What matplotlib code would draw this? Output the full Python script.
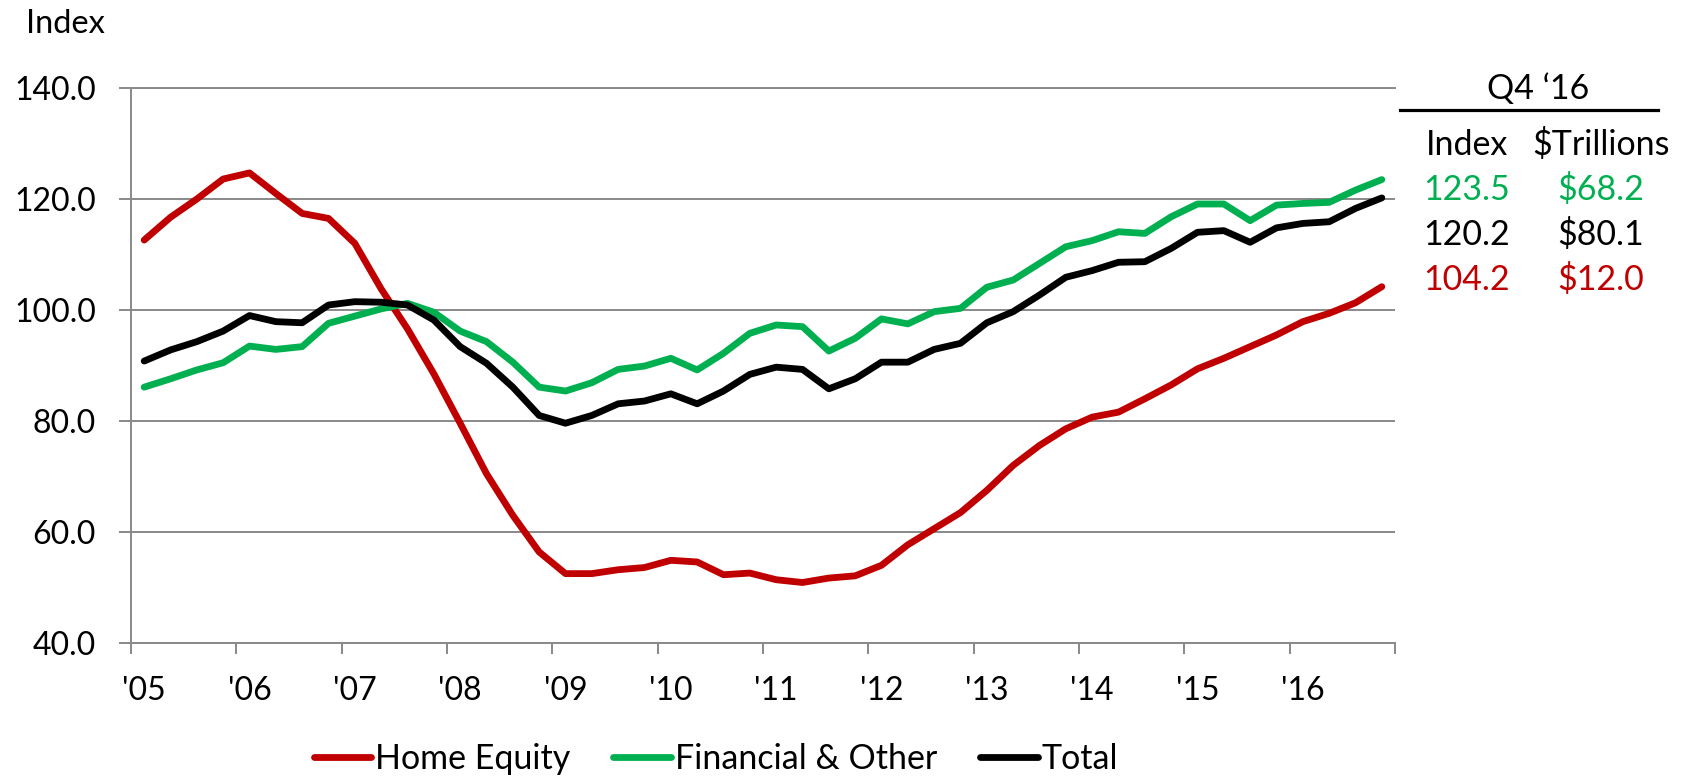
import matplotlib.pyplot as plt
import numpy as np
from matplotlib.lines import Line2D

plt.rcParams['font.family'] = ['Lato', 'DejaVu Sans']

# quarterly index values, Q1 2005 .. Q4 2016
home_equity = [112.6, 116.7, 120.0, 123.6, 124.7, 121.0, 117.4, 116.5,
               112.0, 103.8, 96.6, 88.5, 79.6, 70.5, 63.0, 56.4,
               52.5, 52.5, 53.2, 53.6, 54.9, 54.6, 52.3, 52.6,
               51.4, 50.9, 51.7, 52.1, 54.0, 57.7, 60.6, 63.5,
               67.5, 72.0, 75.6, 78.6, 80.7, 81.6, 84.0, 86.5,
               89.4, 91.3, 93.4, 95.5, 97.9, 99.4, 101.3, 104.2]
financial = [86.1, 87.6, 89.2, 90.5, 93.5, 92.9, 93.4, 97.6,
             98.9, 100.2, 101.2, 99.6, 96.2, 94.3, 90.6, 86.1,
             85.4, 86.9, 89.3, 89.9, 91.3, 89.2, 92.2, 95.8,
             97.3, 97.0, 92.6, 94.9, 98.4, 97.5, 99.7, 100.3,
             104.1, 105.4, 108.4, 111.4, 112.5, 114.1, 113.8, 116.8,
             119.1, 119.1, 116.1, 118.9, 119.2, 119.4, 121.6, 123.5]
total = [90.8, 92.8, 94.3, 96.2, 99.0, 97.9, 97.7, 100.9,
         101.5, 101.4, 100.9, 98.2, 93.4, 90.4, 86.1, 81.0,
         79.6, 81.0, 83.1, 83.6, 84.9, 83.1, 85.4, 88.4,
         89.7, 89.3, 85.8, 87.6, 90.6, 90.6, 92.9, 94.0,
         97.7, 99.7, 102.7, 105.9, 107.1, 108.6, 108.7, 111.1,
         114.0, 114.3, 112.2, 114.8, 115.6, 115.9, 118.3, 120.2]
year_labels = ["'05", "'06", "'07", "'08", "'09", "'10", "'11", "'12",
               "'13", "'14", "'15", "'16"]

# Q4 '16 summary table
table_index = ["123.5", "120.2", "104.2"]
table_dollars = ["$68.2", "$80.1", "$12.0"]

RED = '#C00000'
GREEN = '#00B050'
GRAY = '#898989'

x = np.arange(len(home_equity))

fig = plt.figure(figsize=(16.89, 7.77), dpi=100)
ax = fig.add_axes([131/1689, 1-643/777, (1395-131)/1689, (643-88)/777])

lw = 4.9
l1, = ax.plot(x, home_equity, color=RED, lw=lw, solid_capstyle='round', solid_joinstyle='round', label='Home Equity')
l2, = ax.plot(x, financial, color=GREEN, lw=lw, solid_capstyle='round', solid_joinstyle='round', label='Financial & Other')
l3, = ax.plot(x, total, color='black', lw=lw, solid_capstyle='round', solid_joinstyle='round', label='Total')

ax.set_xlim(-0.5, len(x) - 0.5)
ax.set_ylim(40, 140)
ax.set_yticks(np.arange(40, 141, 20))
ax.set_yticklabels([f"{v:.1f}" for v in np.arange(40, 141, 20)])
ax.yaxis.grid(True, color=GRAY, lw=1.4)
ax.set_axisbelow(True)

ax.set_xticks(np.arange(0, len(x), 4))
ax.set_xticklabels(year_labels)
ax.set_xticks(np.arange(-0.5, len(x), 4), minor=True)
ax.tick_params(axis='x', which='major', length=0, pad=24, labelsize=23)
ax.tick_params(axis='x', which='minor', length=8, width=1.4, color=GRAY, direction='out')
ax.tick_params(axis='y', length=8.3, width=1.4, color=GRAY, pad=17, labelsize=23)

for s in ['left', 'bottom', 'top']:
    ax.spines[s].set_color(GRAY)
    ax.spines[s].set_linewidth(1.4)
ax.spines['right'].set_visible(False)

fig.text(26/1689, 1-33/777, 'Index', fontsize=23.5, ha='left', va='baseline')

# summary table on the right
tfs = 24.5
fig.text(1538/1689, 1-99/777, 'Q4 \u201816', fontsize=tfs, ha='center', va='baseline')
fig.add_artist(Line2D([1400/1689, 1658/1689], [1-110/777, 1-110/777], color='black', lw=2.3))
fig.text(1467/1689, 1-155/777, 'Index', fontsize=tfs, ha='center', va='baseline')
fig.text(1601/1689, 1-155/777, '$Trillions', fontsize=tfs, ha='center', va='baseline')
row_colors = [GREEN, 'black', RED]
row_base = [200, 245, 289.5]
for idx, dol, c, yb in zip(table_index, table_dollars, row_colors, row_base):
    fig.text(1467/1689, 1-yb/777, idx, fontsize=tfs, color=c, ha='center', va='baseline')
    fig.text(1601/1689, 1-yb/777, dol, fontsize=tfs, color=c, ha='center', va='baseline')

fig.legend(handles=[l1, l2, l3], loc='center', bbox_to_anchor=(716/1689, 1-759/777),
           ncol=3, frameon=False, fontsize=24.5, handlelength=1.7, handletextpad=0.12,
           columnspacing=1.25, borderaxespad=0, borderpad=0)

fig.savefig('out.png', dpi=100)
